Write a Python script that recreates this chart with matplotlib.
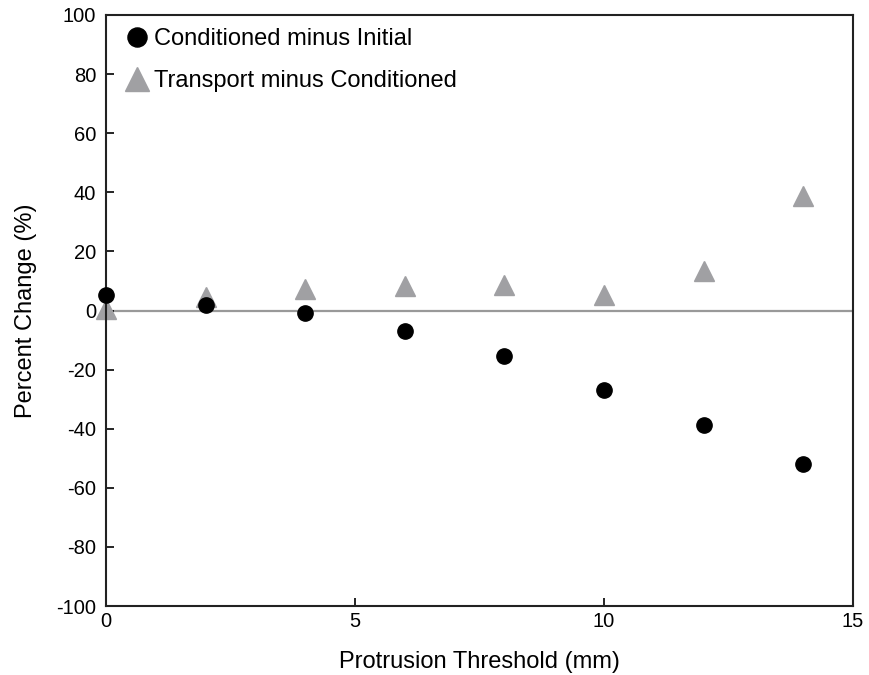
import numpy as np
import matplotlib
matplotlib.use('Agg')
import matplotlib.pyplot as plt

plt.rcParams['font.family'] = ['Liberation Sans', 'DejaVu Sans']
plt.rcParams['axes.unicode_minus'] = False

thresholds = [0, 2, 4, 6, 8, 10, 12, 14]
cond_minus_init = [5.3, 1.7, -0.8, -6.8, -15.4, -27.0, -38.6, -51.9]
trans_minus_cond = [0.6, 4.5, 7.4, 8.4, 8.5, 5.4, 13.2, 38.7]

fig = plt.figure(figsize=(8.7, 6.75), dpi=100)
ax = fig.add_axes([0.1218, 0.1022, 0.8587, 0.8756])

ax.axhline(0, color='#999999', linewidth=1.6, zorder=1)
ax.plot(thresholds, cond_minus_init, 'o', color='black', markersize=11,
        linestyle='none', label='Conditioned minus Initial', zorder=3,
        clip_on=False)
ax.plot(thresholds, trans_minus_cond, '^', color='#a0a0a3', markersize=14,
        linestyle='none', label='Transport minus Conditioned', zorder=2,
        clip_on=False)

ax.set_xlim(0, 15)
ax.set_ylim(-100, 100)
ax.set_xticks([0, 5, 10, 15])
ax.set_yticks(np.arange(-100, 101, 20))
ax.tick_params(direction='in', length=6, width=1.2, labelsize=14.5, pad=4)
ax.tick_params(axis='y', pad=7)
for s in ax.spines.values():
    s.set_linewidth(1.5)
    s.set_color('#222222')

ax.set_xlabel('Protrusion Threshold (mm)', fontsize=17, labelpad=15)
ax.set_ylabel('Percent Change (%)', fontsize=17, labelpad=14)

ax.legend(loc='upper left', bbox_to_anchor=(0.0055, 1.0), frameon=False,
          fontsize=17, handletextpad=0.1, borderaxespad=0.35,
          labelspacing=0.85, handlelength=1.2, borderpad=0.2,
          markerscale=1.25)

plt.savefig('out.png', dpi=100)
